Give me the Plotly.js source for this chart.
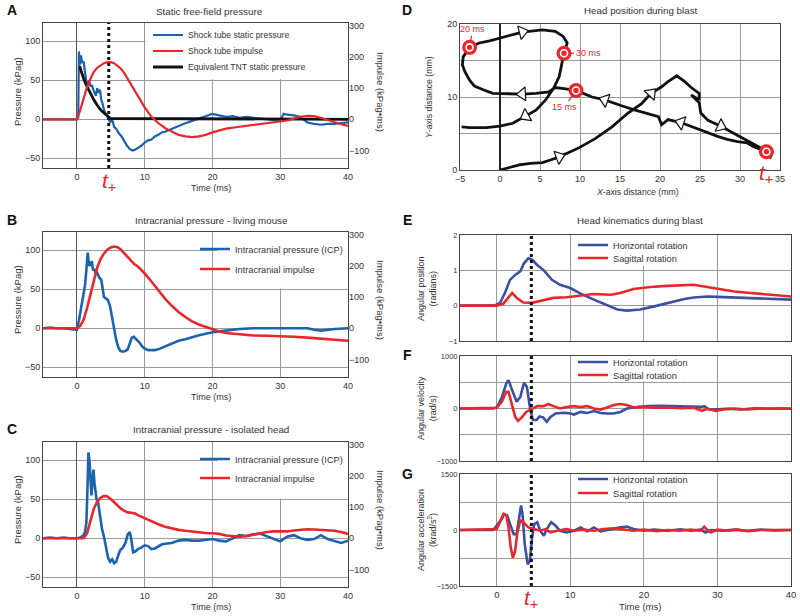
<!DOCTYPE html>
<html><head><meta charset="utf-8">
<script src="https://cdn.plot.ly/plotly-3.0.1.min.js"></script>
<style>html,body{margin:0;padding:0;background:#fff}#chart{width:800px;height:616px}</style>
</head><body><div id="chart"></div>
<script>
// ---------------- DATA ----------------
const tPlus = 4.7;
// Panel A
const aBlueT = [-5,0,0.2,0.3,0.45,0.6,0.8,1.0,1.2,1.4,1.6,1.8,2.0,2.2,2.5,2.8,3.0,3.2,3.4,3.6,3.8,4.0,4.3,4.6,4.9,5.2,5.5,5.8,6.2,6.6,7.0,7.4,7.8,8.2,8.6,9.0,9.5,10,10.5,11,11.5,12,12.5,13,14,15,16,17,18,19,19.5,20,21,22,23,24,25,26,27,28,29,30,30.5,31,32,33,34,35,36,37,38,39,40];
const aBlueP = [0,0,2,87,70,82,72,74,60,48,45,50,42,44,36,30,40,34,38,25,20,12,6,2,-4,0,-10,-12,-18,-22,-28,-34,-38,-40,-39,-37,-34,-30,-27,-26,-22,-20,-17,-16,-12,-8,-5,-2,1,4,6,7,5,3,4,2,3,2,1,0,-1,-2,7,6,5,3,-4,-6,-7,-6,-6,-5,-4];
const aRedT = [-5,0,0.5,1,1.5,2,2.5,3,3.5,4,4.5,5,5.5,6,6.5,7,7.5,8,9,10,11,12,13,14,15,16,17,18,19,20,22,24,26,28,30,31,32,33,34,35,36,37,38,39,40];
const aRedI = [0,0,30,70,104,130,152,165,173,180,183,183,180,172,162,148,130,112,75,38,8,-12,-28,-40,-50,-55,-57,-55,-50,-42,-30,-24,-18,-13,-8,-4,2,8,11,10,5,-2,-10,-16,-21];
const aTntT = [0.4,0.6,1,1.5,2,2.5,3,3.5,4,4.5,5,40];
const aTntP = [68,62,52,42,33,25,18,12,8,4,1,0];
// Panel B
const bBlueT = [-5,-4,-3,-2,-1,0,0.3,0.6,0.9,1.2,1.4,1.6,1.8,2.0,2.2,2.4,2.6,2.8,3.0,3.3,3.6,3.8,4.0,4.3,4.6,4.9,5.2,5.5,5.8,6.1,6.4,6.8,7.2,7.5,7.8,8.1,8.4,8.8,9.2,9.6,10,10.5,11,11.5,12,13,14,15,16,17,18,19,20,21,22,23,24,26,28,30,32,34,35,36,38,40];
const bBlueP = [0,1,0,0,-1,-2,10,25,45,55,75,97,80,82,86,74,76,70,71,65,62,48,40,38,36,28,12,0,-15,-24,-29,-30,-29,-27,-20,-12,-11,-14,-18,-23,-26,-28,-28,-28,-27,-23,-19,-16,-14,-11,-9,-7,-5,-4,-3,-2,-1,0,0,0,0,0,-2,-3,-1,0];
const bRedT = [-5,0,0.5,1,1.5,2,2.5,3,3.5,4,4.5,5,5.5,6,6.5,7,7.5,8,8.5,9,9.5,10,11,12,13,14,15,16,17,18,19,20,21,22,24,26,28,30,32,34,36,38,40];
const bRedI = [0,0,8,28,65,110,155,195,222,240,252,259,262,260,252,240,228,215,205,198,188,176,150,122,95,72,52,36,22,12,4,-3,-10,-15,-20,-23,-24,-25,-27,-30,-33,-37,-40];
// Panel C
const cBlueT = [-5,-4,-3,-2,-1,0,0.5,0.9,1.2,1.4,1.55,1.7,1.85,2.0,2.15,2.3,2.45,2.6,2.75,2.9,3.1,3.4,3.7,4.0,4.3,4.6,4.9,5.2,5.5,5.8,6.1,6.4,6.8,7.2,7.5,7.8,8.0,8.3,8.6,9.0,9.5,10,10.5,11,11.5,12,12.5,13,14,15,16,17,18,19,20,21,22,23,24,25,26,27,28,29,30,31,32,33,34,35,36,37,38,39,40];
const cBlueP = [0,1,0,1,0,0,1,3,8,20,60,110,100,80,55,75,88,70,55,50,48,30,12,2,-10,-25,-30,-27,-32,-30,-22,-15,-12,-5,5,8,0,-18,-17,-14,-12,-9,-10,-14,-13,-10,-8,-7,-6,-3,-2,-3,-3,-2,-1,-3,-4,0,4,3,5,6,3,0,-4,2,4,0,-2,-1,4,-1,-4,-6,-3];
const cRedT = [-5,0,1,1.5,2,2.5,3,3.5,4,4.5,5,5.5,6,6.5,7,7.5,8,8.5,9,10,11,12,13,14,15,16,17,18,19,20,21,22,23,24,25,26,27,28,29,30,31,32,33,34,35,36,37,38,39,40];
const cRedI = [0,0,0,16,60,95,118,130,136,134,126,116,104,95,88,83,82,80,74,64,55,45,37,31,27,24,21,19,17,16,14,9,6,5,7,12,16,20,22,21,22,25,27,29,28,27,26,24,20,14];
// Panel D (head position, mm)
const dX = [0,1.2,2.4,3.8,5.3,6.4,7.4,8.6,9.8,11.9,14.0,16.0,17.7,18.9,20.2,21.0,22.1,23.1,23.9,24.9,24.9,23.9,24.9,25.1,26.0,27.6,29.3,30.9,31.7,32.6,33.4,34.0,33.8,33.3,31.7,30.9,29.7,28.4,27.2,25.5,24.3,22.6,21.0,20.2,19.8,18.1,16.9,15.2,13.1,11.5,10.2,9.5,8.2,6.9,6.1,4.5,2.8,0.3,-0.9,-2.1,-3.2,-3.8,-4.4,-4.7,-4.6,-3.8,-2.6,-1.3,0.3,2.8,5.3,6.9,7.9,8.4,8.0,7.7,7.4,6.7,5.7,4.5,3.2,1.6,0,-1.7,-3.8,-4.8];
const dY = [0,0.3,0.7,0.9,1.0,1.4,1.8,2.4,3.0,4.3,5.9,7.8,9.1,10.5,11.4,12.1,12.9,12.1,11.3,10.5,9.6,10.3,9.2,7.8,6.8,6.0,5.0,4.1,3.6,3.0,2.5,2.3,1.8,2.5,3.2,3.7,3.9,4.2,4.6,5.3,5.9,6.5,6.9,6.2,7.3,7.8,8.2,8.8,9.6,10.0,10.6,10.9,11.1,11.3,10.7,10.5,10.4,10.4,10.5,11.0,11.5,12.3,13.5,14.4,15.5,16.8,17.4,17.7,18.2,18.9,19.2,19.0,18.3,17.4,16.0,14.6,12.8,11.2,9.6,8.2,7.4,6.4,6.0,5.8,5.8,5.9];
const dArrowIdx = [6,13,25,41,48,56,69,80];
const dMarkX = [33.3, 9.5, -3.8, 8.0];
const dMarkY = [2.5, 10.9, 16.8, 16.0];
const dMarkLabels = ['t+','15 ms','20 ms','30 ms'];
// Panel E (angular position, rad)
const eHT = [-5,-0.3,0.45,1.1,1.8,2.5,3.2,3.7,4.3,4.8,5.5,6.4,7.5,8.6,10,11.4,13.2,15,16.4,17.7,19.5,21.4,23.2,25.5,26.8,28.6,30,32.3,34.5,36.8,40];
const eHV = [0,0,0.08,0.36,0.73,0.87,0.97,1.2,1.34,1.30,1.15,1.0,0.73,0.59,0.5,0.34,0.17,0,-0.11,-0.14,-0.11,-0.02,0.08,0.19,0.23,0.26,0.25,0.23,0.21,0.2,0.17];
const eST = [-5,0,0.9,1.6,2.1,2.7,3.6,4.8,6.4,7.7,9.5,11.4,13.2,15.5,16.8,18.6,20.9,23.2,25.5,26.8,28.6,30.5,32.3,34.5,36.8,40];
const eSV = [0,0,0.06,0.22,0.36,0.22,0.09,0.08,0.15,0.22,0.24,0.29,0.33,0.31,0.36,0.47,0.53,0.56,0.59,0.59,0.53,0.47,0.40,0.36,0.31,0.26];
// Panel F (angular velocity, rad/s)
const fHT = [-5,-0.5,0,0.7,1.3,1.6,2,2.7,3.2,3.7,4.1,4.5,4.9,5.4,5.8,6.3,6.8,7.3,8.0,9.1,10,10.5,11.4,12.3,13.2,14.1,15,15.9,16.8,17.7,18.6,20.5,22.3,24.1,25.9,27.7,28.2,28.9,30,31.4,33.2,35,36.8,38.6,40];
const fHV = [0,0,20,220,480,540,380,130,220,490,410,30,-220,-220,-150,-170,-255,-160,-95,-80,-95,-115,-65,-85,-50,-85,-95,-95,-65,0,20,45,50,45,45,30,45,-20,-15,-5,-20,5,-5,5,-5];
const fST = [-5,0,0.7,1.3,1.6,2,2.5,2.9,3.4,4.0,4.8,5.5,6.4,7.0,7.7,8.6,9.5,10.5,11.4,12.3,13.2,14.1,15,15.9,16.8,17.7,18.6,19.5,21.4,23.2,25,26.8,27.9,28.6,29.8,30.9,32.3,34.1,35.9,37.7,40];
const fSV = [0,15,130,320,320,95,-160,-235,-170,-65,0,45,45,85,45,0,30,45,30,45,0,-20,20,65,85,65,20,30,15,20,5,15,-45,-5,-45,-15,0,-20,0,-5,-5];
// Panel G (angular acceleration, krad/s^2)
const gHT = [-5,-0.5,0,0.7,1.0,1.4,1.8,2.3,2.7,3.0,3.3,3.5,3.8,4.2,4.5,4.8,5.1,5.5,5.9,6.4,6.8,7.4,8.0,8.6,9.5,10.5,11.4,12.3,13.2,14.1,15.5,16.8,17.7,18.6,20,21.4,23.2,25,26.4,27.7,28.4,29.1,30.5,32.3,34.1,35.9,37.7,40];
const gHV = [0,0,117,300,430,390,160,-110,-110,250,660,430,-380,-920,-830,-200,160,210,-20,-155,25,210,117,-20,-65,-20,70,-35,70,-35,25,70,90,25,-20,10,-20,20,-20,10,-65,0,-20,10,-20,10,-10,0];
const gST = [-5,0,0.5,0.9,1.3,1.6,1.9,2.2,2.5,2.8,3.2,3.6,4.3,5,5.9,6.6,7.3,8.2,9.5,10.5,11.8,13.2,14.5,15.9,17.3,18.6,20,21.8,23.2,25,26.4,27.7,28.2,28.5,29.1,30,31.4,32.7,34.1,35.9,40];
const gSV = [0,25,250,430,390,70,-470,-740,-560,-65,250,210,70,25,-20,25,-65,-20,25,-20,10,-20,25,45,10,-20,10,-35,0,-20,10,-20,90,25,-65,10,-20,10,-35,0,0];

// ---------------- STYLE / LAYOUT ----------------
const W = 800, H = 616;
const px = v => v / W, py = v => 1 - v / H;
const FONT = 'Liberation Sans, Arial, sans-serif';
const BLUE = '#1b62b0', RED = '#e8262b', BLACK = '#111111', KBLUE = '#3a50a4';
const GRID = '#9a9a9a', FRAME = '#444444', TXT = '#333333';
const f = (s, c) => ({size: s, color: c || TXT, family: FONT});

function axisX(dom, anchor, range, tickvals, showLabels, size) {
  return {domain: dom, anchor: anchor, range: range, tickvals: tickvals,
    showticklabels: showLabels, tickfont: f(size || 9),
    showgrid: true, gridcolor: GRID, gridwidth: 1, zeroline: true, zerolinecolor: '#555', zerolinewidth: 1,
    showline: true, mirror: true, linecolor: FRAME, linewidth: 1, ticks: '', fixedrange: true};
}
function axisY(dom, anchor, range, tickvals, size, minorVals) {
  const a = {domain: dom, anchor: anchor, range: range, tickvals: tickvals, tickfont: f(size || 9),
    showgrid: true, gridcolor: GRID, gridwidth: 1, zeroline: false,
    showline: true, mirror: true, linecolor: FRAME, linewidth: 1, ticks: '', fixedrange: true};
  if (minorVals) a.minor = {tickvals: minorVals, showgrid: true, gridcolor: GRID, gridwidth: 1, ticks: ''};
  return a;
}
function axisYR(overlay, anchor, range) {
  return {overlaying: overlay, side: 'right', anchor: anchor,
    range: range, tickvals: [-100,0,100,200,300], tickfont: f(9),
    showgrid: false, zeroline: false, showline: false, ticks: '', fixedrange: true};
}

const xdomL = [px(43), px(348)];
const xdomR = [px(460), px(791)];
const yA = [py(168), py(23)], yB = [py(377), py(232)], yC = [py(587), py(442)];
const yD = [py(170), py(24)], yE = [py(341), py(235)], yF = [py(461), py(356)], yG = [py(586), py(474)];
const leftRange = [-62.5, 123.5], rightRange = [-156.25, 308.75];

const layout = {
  width: W, height: H, margin: {l: 0, r: 0, t: 0, b: 0},
  paper_bgcolor: '#fff', plot_bgcolor: '#fff',
  font: f(9),
  xaxis: axisX(xdomL, 'y', [-5, 40], [0,10,20,30,40], true),
  yaxis: axisY(yA, 'x', leftRange, [-50,0,50,100]),
  yaxis2: axisYR('y', 'x', rightRange),
  xaxis2: axisX(xdomL, 'y3', [-5, 40], [0,10,20,30,40], true),
  yaxis3: axisY(yB, 'x2', leftRange, [-50,0,50,100]),
  yaxis4: axisYR('y3', 'x2', rightRange),
  xaxis3: axisX(xdomL, 'y5', [-5, 40], [0,10,20,30,40], true),
  yaxis5: axisY(yC, 'x3', leftRange, [-50,0,50,100]),
  yaxis6: axisYR('y5', 'x3', rightRange),
  xaxis4: Object.assign(axisX([px(460), px(780)], 'y7', [-5, 35], [-5,0,5,10,15,20,25,30,35], true, 9),
           {zerolinecolor: '#222', zerolinewidth: 1.5}),
  yaxis7: axisY(yD, 'x4', [0, 20], [0,10,20], 9, [5,15]),
  xaxis5: axisX(xdomR, 'y8', [-5, 40], [0,10,20,30,40], false),
  yaxis8: axisY(yE, 'x5', [-1, 2], [-1,0,1,2], 7.5),
  xaxis6: axisX(xdomR, 'y9', [-5, 40], [0,10,20,30,40], false),
  yaxis9: axisY(yF, 'x6', [-1000, 1000], [-1000,0,1000], 7.5, [-500,500]),
  xaxis7: axisX(xdomR, 'y10', [-5, 40], [0,10,20,30,40], true, 9.5),
  yaxis10: axisY(yG, 'x7', [-1500, 1500], [-1500,0,1500], 7.5, [-750,750]),
  shapes: [], annotations: [], showlegend: true
};
['xaxis5','xaxis6','xaxis7'].forEach(k => { layout[k].zeroline = false; });

// t+ dotted lines
[['x','y'],['x5','y8'],['x6','y9'],['x7','y10']].forEach(([xr, yr]) => {
  layout.shapes.push({type: 'line', xref: xr, yref: yr + ' domain', x0: tPlus, x1: tPlus, y0: 0, y1: 1,
    line: {color: BLACK, width: 3, dash: 'dot'}, layer: 'above'});
});
// white legend boxes that hide the grid behind the legends (between grid and traces)
[['x','y',10.15,40,51.5,123.5],['x2','y3',20.7,40,51,123.5],['x3','y5',20.7,40,51,123.5],
 ['x5','y8',10.15,29.85,1.14,2],['x6','y9',10.15,29.85,520,1000],['x7','y10',10.15,29.85,790,1500]].forEach(([xr,yr,x0,x1,y0,y1]) => {
  layout.shapes.push({type: 'rect', xref: xr, yref: yr, x0: x0, x1: x1, y0: y0, y1: y1,
    fillcolor: '#fff', line: {width: 0}, layer: 'between'});
});

// legends: one per entry for precise placement
let legN = 1;
function leg(xPx, yPx, size) {
  const name = legN === 1 ? 'legend' : 'legend' + legN;
  layout[name] = {x: px(xPx), y: py(yPx), xanchor: 'left', yanchor: 'middle', bgcolor: 'rgba(0,0,0,0)',
    borderwidth: 0, itemwidth: 30, font: f(size), itemclick: false, itemdoubleclick: false};
  legN++;
  return name;
}

function ann(text, xPx, yPx, opts) {
  layout.annotations.push(Object.assign({text: text, xref: 'paper', yref: 'paper', x: px(xPx), y: py(yPx),
    showarrow: false, xanchor: 'center', yanchor: 'middle', font: f(9)}, opts || {}));
}

// Panel letters
[['A',12,10],['B',12,220],['C',12,429],['D',407,10],['E',407,220],['F',407,355],['G',407,474]].forEach(([t,x,y]) =>
  ann('<b>' + t + '</b>', x, y, {font: f(14, '#111')}));
// Panel titles
ann('Static free-field pressure', 209, 11, {font: f(9.8)});
ann('Intracranial pressure - living mouse', 211, 220, {font: f(9.8)});
ann('Intracranial pressure - isolated head', 211, 429, {font: f(9.8)});
ann('Head position during blast', 641, 10, {font: f(9.8)});
ann('Head kinematics during blast', 640, 220, {font: f(9.8)});
// Axis titles
[[92,188],[300,397],[510,607]].forEach(([yc, yt]) => {
  ann('Pressure (kPag)', 17, yc, {textangle: -90, font: f(9.5)});
  ann('Impulse (kPag\u2022ms)', 381, yc, {textangle: 90, font: f(9.5)});
  ann('Time (ms)', 211, yt, {font: f(9)});
});
ann('<i>X</i>-axis distance (mm)', 637, 192, {font: f(8.7)});
ann('<i>Y</i>-axis distance (mm)', 429, 97, {textangle: -90, font: f(8.7)});
ann('Angular position<br>(radians)', 427, 288, {textangle: -90, font: f(9)});
ann('Angular velocity<br>(rad/s)', 427, 408, {textangle: -90, font: f(9)});
ann('Angular acceleration<br>(krad/s<sup>2</sup>)', 427, 530, {textangle: -90, font: f(9)});
ann('Time (ms)', 640, 606, {font: f(9.5)});
// t+ labels on time axes
const tplusFont = f(21, RED);
layout.annotations.push({text: '<i>t</i><sub>+</sub>', xref: 'x', yref: 'paper', x: tPlus, y: py(167), yanchor: 'top', showarrow: false, font: tplusFont});
layout.annotations.push({text: '<i>t</i><sub>+</sub>', xref: 'x7', yref: 'paper', x: tPlus, y: py(584), yanchor: 'top', showarrow: false, font: tplusFont});
// D marker labels (with leader lines)
const markOffsets = [[0, 22], [-12, 17], [3, -18], [24, 0]];
dMarkLabels.forEach((lab, i) => {
  const isT = lab === 't+';
  layout.annotations.push({text: isT ? '<i>t</i><sub>+</sub>' : lab, xref: 'x4', yref: 'y7', x: dMarkX[i], y: dMarkY[i],
    axref: 'pixel', ayref: 'pixel', ax: markOffsets[i][0], ay: markOffsets[i][1],
    showarrow: true, arrowhead: 0, arrowcolor: RED, arrowwidth: 1.2,
    standoff: 6, font: isT ? tplusFont : f(9, RED)});
});

// ---------------- TRACES ----------------
const traces = [];
function line(x, y, xa, ya, color, width, name, legName) {
  const t = {type: 'scatter', mode: 'lines', x: x, y: y, xaxis: xa, yaxis: ya,
    line: {color: color, width: width}, name: name || '', showlegend: !!name, hoverinfo: 'skip'};
  if (legName) t.legend = legName;
  traces.push(t);
}
// A
line(aBlueT, aBlueP, 'x', 'y', BLUE, 2.2, 'Shock tube static pressure', leg(148, 35, 8.6));
line(aTntT, aTntP, 'x', 'y', BLACK, 2.8, 'Equivalent TNT static pressure', leg(148, 67, 8.6));
line(aRedT, aRedI, 'x', 'y2', RED, 2.2, 'Shock tube impulse', leg(148, 51, 8.6));
// B
line(bBlueT, bBlueP, 'x2', 'y3', BLUE, 2.6, 'Intracranial pressure (ICP)', leg(195, 249, 9.2));
line(bRedT, bRedI, 'x2', 'y4', RED, 2.6, 'Intracranial impulse', leg(195, 269, 9.2));
// C
line(cBlueT, cBlueP, 'x3', 'y5', BLUE, 2.6, 'Intracranial pressure (ICP)', leg(195, 459, 9.2));
line(cRedT, cRedI, 'x3', 'y6', RED, 2.6, 'Intracranial impulse', leg(195, 478, 9.2));
// D path with direction arrows
const arrowSizes = dX.map((_, i) => dArrowIdx.includes(i) ? 12 : 0);
traces.push({type: 'scatter', mode: 'lines+markers', x: dX, y: dY, xaxis: 'x4', yaxis: 'y7',
  line: {color: BLACK, width: 2.8}, showlegend: false, hoverinfo: 'skip',
  marker: {symbol: 'triangle-up', size: arrowSizes, angleref: 'previous', color: '#ffffff', opacity: 1, line: {color: BLACK, width: 1.2}}});
traces.push({type: 'scatter', mode: 'markers', x: dMarkX, y: dMarkY, xaxis: 'x4', yaxis: 'y7', showlegend: false, hoverinfo: 'skip',
  marker: {size: 15, color: RED, line: {width: 0}}});
traces.push({type: 'scatter', mode: 'markers', x: dMarkX, y: dMarkY, xaxis: 'x4', yaxis: 'y7', showlegend: false, hoverinfo: 'skip',
  marker: {size: 7, color: RED, line: {width: 1.6, color: '#fff'}}});
// E, F, G
line(eHT, eHV, 'x5', 'y8', KBLUE, 2.6, 'Horizontal rotation', leg(573, 245, 9.2));
line(eST, eSV, 'x5', 'y8', RED, 2.6, 'Sagittal rotation', leg(573, 258, 9.2));
line(fHT, fHV, 'x6', 'y9', KBLUE, 2.6, 'Horizontal rotation', leg(573, 362, 9.2));
line(fST, fSV, 'x6', 'y9', RED, 2.6, 'Sagittal rotation', leg(573, 375, 9.2));
line(gHT, gHV, 'x7', 'y10', KBLUE, 2.6, 'Horizontal rotation', leg(573, 479, 9.2));
line(gST, gSV, 'x7', 'y10', RED, 2.6, 'Sagittal rotation', leg(573, 493, 9.2));

Plotly.newPlot('chart', traces, layout, {staticPlot: true, displayModeBar: false});
</script>
</body></html>
